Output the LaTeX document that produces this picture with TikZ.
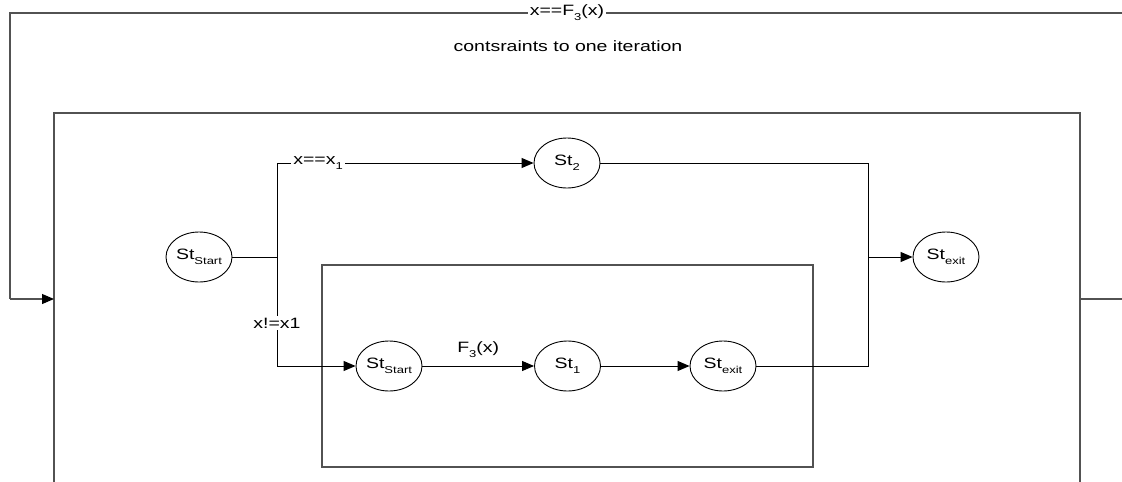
\documentclass[tikz,border=0pt]{standalone}
\usepackage{fontspec}
\setmainfont{Liberation Sans}[FakeStretch=1.3]
\usetikzlibrary{shapes.geometric,arrows.meta}
% lowered, smaller index text (St_Start, F_3, x_1 ...)
\newcommand{\lowsub}[1]{\raisebox{-5pt}{\fontsize{10}{10}\selectfont #1}}
\begin{document}
\begin{tikzpicture}[x=1pt,y=-1pt,
  state/.style={ellipse,draw=black,line width=0.9pt,minimum width=66pt,
    minimum height=50pt,inner sep=0pt,font=\fontsize{15}{15}\selectfont},
  frame/.style={draw=black!68,line width=1.1pt},
  flow/.style={draw=black,line width=1pt},
  tip/.style={-{Triangle[length=12pt,width=10pt,color=black]}},
  arr/.style={flow,tip},
  lbl/.style={fill=white,inner sep=2pt,font=\fontsize{15}{15}\selectfont},
  txt/.style={inner sep=0pt,font=\fontsize{15}{15}\selectfont}]
\useasboundingbox (0,0) rectangle (1122,482);

% iteration frame (open at the lower edge) and the nested sub-machine frame
\coordinate (oBL) at (54,482);
\coordinate (oTL) at (54,113);
\coordinate (oTR) at (1080,113);
\coordinate (oBR) at (1080,482);
\draw[frame] (oBL) -- (oTL) -- (oTR) -- (oBR);
\coordinate (iTL) at (322,265);
\coordinate (iBR) at (813,467);
\draw[frame] (iTL) rectangle (iBR);

% feedback loop over the frame
\coordinate (loopR) at (1122,13);
\coordinate (loopL) at (10,13);
\coordinate (loopD) at (10,299);
\coordinate (inL) at (54,299);
\coordinate (outR0) at (1080,299);
\coordinate (outR) at (1122,299);
\draw[frame] (outR0) -- (outR);
\draw[frame] (loopR) -- (loopL) -- (loopD);
\draw[frame,tip] (loopD) -- (inL);
\node[lbl] (lblLoop) at (567,13) {x==F\lowsub{3}(x)};
\node[txt] (note) at (568,46) {contsraints to one iteration};

% states
\node[state] (sS) at (199,257) {St\lowsub{Start}};
\node[state] (s2) at (567,163) {St\lowsub{2}};
\node[state] (sX) at (946,257) {St\lowsub{exit}};
\node[state] (iS) at (389,366) {St\lowsub{Start}};
\node[state] (s1) at (567.5,366) {St\lowsub{1}};
\node[state] (iX) at (723,366) {St\lowsub{exit}};

% branching
\coordinate (fork) at (277,257);
\coordinate (forkT) at (277,163);
\coordinate (forkB) at (277,366);
\draw[flow] (sS) -- (fork);
\draw[flow] (forkT) -- (forkB);
\draw[arr] (forkT) -- (s2);
\draw[arr] (forkB) -- (iS);
\node[lbl] (lblEq) at (318,163) {x==x\lowsub{1}};
\node[lbl] (lblNe) at (277,323) {x!=x1};

% inner chain
\draw[arr] (iS) -- node[txt,above=8pt] (lblF) {F\lowsub{3}(x)} (s1);
\draw[arr] (s1) -- (iX);

% merge
\coordinate (join) at (868,257);
\draw[flow] (s2) -| (join);
\draw[flow] (iX) -| (join);
\draw[arr] (join) -- (sX);
\end{tikzpicture}
\end{document}
